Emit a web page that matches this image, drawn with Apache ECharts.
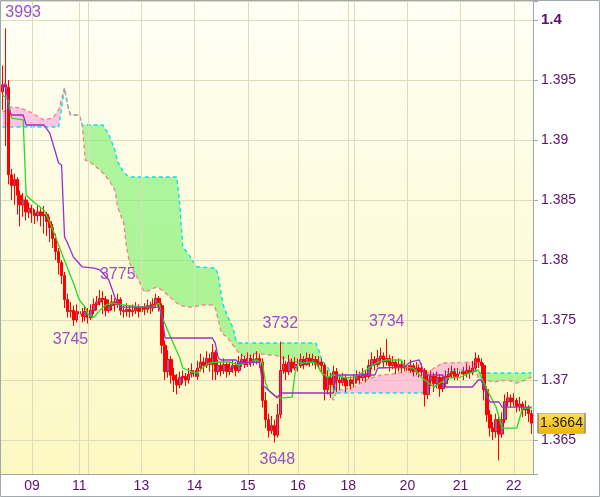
<!DOCTYPE html>
<html><head><meta charset="utf-8">
<script src="https://cdn.jsdelivr.net/npm/echarts@6/dist/echarts.min.js"></script>
<style>html,body{margin:0;padding:0;background:#fff}#c{width:600px;height:497px}</style>
</head><body><div id="c"></div>
<script>
// ---- candle data (one bar each) ----
const opens=[1.3940,1.3946,1.3944,1.3871,1.3862,1.3867,1.3854,1.3846,1.3850,1.3840,
1.3843,1.3839,1.3837,1.3840,1.3837,1.3838,1.3832,1.3827,1.3818,1.3807,
1.3798,1.3787,1.3767,1.3757,1.3758,1.3750,1.3757,1.3755,1.3753,1.3757,
1.3752,1.3758,1.3763,1.3765,1.3768,1.3767,1.3758,1.3762,1.3765,1.3763,
1.3767,1.3758,1.3757,1.3759,1.3757,1.3758,1.3760,1.3757,1.3761,1.3759,
1.3762,1.3760,1.3763,1.3768,1.3762,1.3729,1.3707,1.3717,1.3704,1.3700,
1.3696,1.3702,1.3703,1.3700,1.3705,1.3708,1.3703,1.3710,1.3715,1.3712,
1.3718,1.3713,1.3723,1.3707,1.3712,1.3708,1.3713,1.3707,1.3710,1.3712,
1.3708,1.3715,1.3717,1.3713,1.3718,1.3715,1.3717,1.3718,1.3715,1.3683,
1.3667,1.3658,1.3662,1.3654,1.3671,1.3708,1.3713,1.3707,1.3715,1.3710,
1.3713,1.3712,1.3717,1.3713,1.3718,1.3715,1.3717,1.3713,1.3715,1.3712,
1.3692,1.3702,1.3696,1.3707,1.3700,1.3698,1.3702,1.3695,1.3700,1.3697,
1.3700,1.3703,1.3702,1.3705,1.3703,1.3712,1.3717,1.3713,1.3718,1.3720,
1.3715,1.3718,1.3712,1.3715,1.3710,1.3713,1.3710,1.3712,1.3708,1.3712,
1.3707,1.3710,1.3707,1.3708,1.3688,1.3700,1.3703,1.3697,1.3702,1.3693,
1.3697,1.3703,1.3705,1.3707,1.3703,1.3705,1.3707,1.3705,1.3708,1.3706,
1.3710,1.3718,1.3715,1.3712,1.3692,1.3671,1.3660,1.3657,1.3667,1.3655,
1.3667,1.3682,1.3685,1.3682,1.3683,1.3678,1.3680,1.3675,1.3677,1.3672];
const closes=[1.3946,1.3944,1.3871,1.3862,1.3867,1.3854,1.3846,1.3850,1.3840,1.3843,
1.3839,1.3837,1.3840,1.3837,1.3838,1.3832,1.3827,1.3818,1.3807,1.3798,
1.3787,1.3767,1.3757,1.3758,1.3750,1.3757,1.3755,1.3753,1.3757,1.3752,
1.3758,1.3763,1.3765,1.3768,1.3767,1.3758,1.3762,1.3765,1.3763,1.3767,
1.3758,1.3757,1.3759,1.3757,1.3758,1.3760,1.3757,1.3761,1.3759,1.3762,
1.3760,1.3763,1.3768,1.3762,1.3729,1.3707,1.3717,1.3704,1.3700,1.3696,
1.3702,1.3703,1.3700,1.3705,1.3708,1.3703,1.3710,1.3715,1.3712,1.3718,
1.3713,1.3723,1.3707,1.3712,1.3708,1.3713,1.3707,1.3710,1.3712,1.3708,
1.3715,1.3717,1.3713,1.3718,1.3715,1.3717,1.3718,1.3715,1.3683,1.3667,
1.3658,1.3662,1.3654,1.3671,1.3708,1.3713,1.3707,1.3715,1.3710,1.3713,
1.3712,1.3717,1.3713,1.3718,1.3715,1.3717,1.3713,1.3715,1.3712,1.3692,
1.3702,1.3696,1.3707,1.3700,1.3698,1.3702,1.3695,1.3700,1.3697,1.3700,
1.3703,1.3702,1.3705,1.3703,1.3712,1.3717,1.3713,1.3718,1.3720,1.3715,
1.3718,1.3712,1.3715,1.3710,1.3713,1.3710,1.3712,1.3708,1.3712,1.3707,
1.3710,1.3707,1.3708,1.3688,1.3700,1.3703,1.3697,1.3702,1.3693,1.3697,
1.3703,1.3705,1.3707,1.3703,1.3705,1.3707,1.3705,1.3708,1.3706,1.3710,
1.3718,1.3715,1.3712,1.3692,1.3671,1.3660,1.3657,1.3667,1.3655,1.3667,
1.3682,1.3685,1.3682,1.3683,1.3678,1.3680,1.3675,1.3677,1.3672,1.3664];
const highs=[1.3962,1.3993,1.3950,1.3876,1.3872,1.3869,1.3858,1.3856,1.3853,1.3848,
1.3846,1.3842,1.3845,1.3843,1.3845,1.3840,1.3836,1.3830,1.3822,1.3810,
1.3800,1.3790,1.3772,1.3765,1.3762,1.3763,1.3762,1.3760,1.3762,1.3760,
1.3763,1.3768,1.3770,1.3775,1.3774,1.3770,1.3767,1.3771,1.3768,1.3772,
1.3769,1.3762,1.3764,1.3762,1.3763,1.3765,1.3763,1.3766,1.3764,1.3767,
1.3765,1.3768,1.3772,1.3770,1.3764,1.3733,1.3725,1.3720,1.3710,1.3705,
1.3707,1.3708,1.3706,1.3710,1.3714,1.3712,1.3716,1.3722,1.3719,1.3724,
1.3722,1.3730,1.3725,1.3717,1.3715,1.3718,1.3715,1.3715,1.3717,1.3715,
1.3720,1.3722,1.3720,1.3723,1.3721,1.3722,1.3724,1.3722,1.3718,1.3690,
1.3672,1.3670,1.3667,1.3680,1.3732,1.3720,1.3716,1.3721,1.3718,1.3719,
1.3718,1.3722,1.3720,1.3723,1.3722,1.3722,1.3720,1.3720,1.3718,1.3714,
1.3708,1.3706,1.3712,1.3710,1.3704,1.3706,1.3705,1.3705,1.3703,1.3705,
1.3708,1.3707,1.3710,1.3708,1.3717,1.3723,1.3720,1.3725,1.3727,1.3723,
1.3734,1.3721,1.3720,1.3717,1.3718,1.3716,1.3717,1.3714,1.3717,1.3714,
1.3715,1.3713,1.3714,1.3710,1.3705,1.3708,1.3706,1.3707,1.3705,1.3703,
1.3708,1.3710,1.3712,1.3710,1.3710,1.3712,1.3711,1.3714,1.3712,1.3716,
1.3723,1.3721,1.3718,1.3714,1.3695,1.3675,1.3665,1.3672,1.3670,1.3673,
1.3688,1.3690,1.3688,1.3689,1.3685,1.3686,1.3682,1.3683,1.3679,1.3675];
const lows=[1.3925,1.3895,1.3863,1.3850,1.3846,1.3838,1.3828,1.3836,1.3833,1.3835,
1.3831,1.3830,1.3832,1.3828,1.3822,1.3820,1.3815,1.3810,1.3800,1.3788,
1.3780,1.3760,1.3752,1.3752,1.3745,1.3748,1.3750,1.3748,1.3749,1.3747,
1.3750,1.3755,1.3758,1.3762,1.3755,1.3753,1.3756,1.3758,1.3757,1.3760,
1.3754,1.3752,1.3753,1.3752,1.3753,1.3755,1.3752,1.3755,1.3754,1.3756,
1.3755,1.3757,1.3760,1.3757,1.3722,1.3700,1.3702,1.3697,1.3690,1.3688,
1.3693,1.3697,1.3695,1.3697,1.3702,1.3698,1.3700,1.3707,1.3706,1.3710,
1.3707,1.3700,1.3700,1.3704,1.3703,1.3705,1.3702,1.3704,1.3706,1.3703,
1.3706,1.3711,1.3710,1.3711,1.3711,1.3712,1.3713,1.3710,1.3677,1.3660,
1.3652,1.3655,1.3648,1.3652,1.3668,1.3705,1.3700,1.3704,1.3706,1.3708,
1.3707,1.3710,1.3709,1.3712,1.3711,1.3712,1.3709,1.3710,1.3706,1.3683,
1.3688,1.3685,1.3692,1.3690,1.3692,1.3695,1.3690,1.3693,1.3692,1.3694,
1.3697,1.3697,1.3699,1.3698,1.3701,1.3709,1.3708,1.3711,1.3714,1.3710,
1.3712,1.3707,1.3709,1.3705,1.3707,1.3706,1.3707,1.3704,1.3706,1.3703,
1.3704,1.3702,1.3703,1.3678,1.3684,1.3695,1.3690,1.3693,1.3686,1.3690,
1.3694,1.3700,1.3702,1.3700,1.3700,1.3702,1.3700,1.3702,1.3701,1.3704,
1.3707,1.3710,1.3705,1.3683,1.3665,1.3653,1.3650,1.3652,1.3633,1.3652,
1.3664,1.3678,1.3677,1.3678,1.3673,1.3674,1.3669,1.3670,1.3665,1.3655];

// ---- day ticks ----
const tickIdx=[10,26,47,65,83,100,117,137,155,173];
const tickLabels=['09','11','13','14','15','16','18','20','21','22'];
const weekIdx=[29,119];

// ---- Ichimoku lines (vertices: bar index / value) ----
const tenkanIdx=[0,2,3,7,8,9,11,14,16,18,20,22,24,26,28,29,31,33,35,37,41,47,51,53,54,57,60,61,64,66,68,70,73,77,80,82,84,86,88,89,90,92,94,98,99,100,102,104,106,108,110,112,116,119,122,124,127,130,135,136,139,142,146,148,151,155,158,161,162,164,167,169,174,176,179];
const tenkanVal=[1.39375,1.39333,1.39183,1.39167,1.38542,1.38517,1.38475,1.38417,1.38317,1.38192,1.38058,1.37933,1.37808,1.37667,1.37608,1.37542,1.37525,1.37583,1.37625,1.37642,1.37625,1.37608,1.37608,1.37642,1.37525,1.3735,1.37183,1.371,1.37067,1.37058,1.37108,1.37142,1.3715,1.3715,1.37125,1.37142,1.3715,1.37167,1.37142,1.36975,1.36917,1.36875,1.3685,1.36858,1.37058,1.37142,1.37142,1.3715,1.37142,1.37058,1.37025,1.37042,1.37017,1.37025,1.37067,1.371,1.3715,1.37167,1.37167,1.37108,1.371,1.37017,1.36942,1.36975,1.37017,1.37025,1.37058,1.37083,1.37025,1.36917,1.36775,1.366,1.366,1.36767,1.36767];
const kijunIdx=[0,1,2,3,7,8,14,16,17,19,20,21,22,24,27,31,33,36,38,39,40,53,54,55,71,72,73,74,79,80,87,88,91,93,94,112,113,126,127,136,138,141,143,149,150,159,161,162,164,165,168,169,179];
const kijunVal=[1.39442,1.39475,1.39275,1.39208,1.39208,1.39125,1.39125,1.39058,1.38975,1.38808,1.38792,1.38192,1.38142,1.38025,1.37942,1.37933,1.37917,1.37833,1.37692,1.37642,1.37608,1.37608,1.37525,1.3735,1.3735,1.37308,1.37183,1.37167,1.37167,1.37142,1.3715,1.36958,1.36892,1.3685,1.36892,1.36892,1.37042,1.37042,1.371,1.37108,1.3715,1.37167,1.37042,1.37042,1.36942,1.36942,1.37,1.37,1.36858,1.36817,1.36817,1.36775,1.36775];
const cloudIdx=[0,3,6,10,14,17,19,21,22,23,26,27,28,30,33,34,36,37,38,39,41,42,43,46,48,50,52,54,57,59,60,61,63,64,66,67,71,72,73,74,75,76,78,79,80,82,84,86,90,92,99,103,106,107,108,109,110,111,112,113,114,119,123,128,132,137,141,142,144,146,149,151,159,160,161,166,171,174,177,179];
const spanA=[1.39108,1.39108,1.39108,1.39108,1.39108,1.39108,1.39108,1.39433,1.39292,1.39208,
1.39208,1.39125,1.39125,1.39125,1.39125,1.39125,1.39042,1.38983,1.38917,1.38817,
1.38733,1.38708,1.38692,1.38692,1.38692,1.38692,1.38692,1.38692,1.38692,1.38692,
1.38458,1.38108,1.3805,1.38,1.37942,1.37942,1.37933,1.37933,1.37875,1.37708,
1.376,1.37542,1.37433,1.37333,1.37308,1.37308,1.37308,1.37308,1.37308,1.37308,
1.37308,1.37308,1.37308,1.3725,1.37167,1.37133,1.37108,1.37058,1.37025,1.36892,
1.36892,1.36892,1.36892,1.36892,1.36892,1.36892,1.36892,1.36892,1.36917,1.36942,
1.36975,1.37083,1.37083,1.37075,1.37058,1.37058,1.37058,1.37058,1.37058,1.37058];
const spanB=[1.39233,1.39275,1.39267,1.39225,1.39167,1.39183,1.3925,1.39433,1.39292,1.39208,
1.39208,1.39125,1.38833,1.38808,1.3875,1.38725,1.38667,1.38625,1.38583,1.38442,
1.38308,1.38108,1.37975,1.37833,1.37733,1.3775,1.37775,1.3775,1.37683,1.37642,
1.37625,1.37617,1.37608,1.37608,1.37617,1.37625,1.37625,1.376,1.375,1.374,
1.37375,1.37358,1.37292,1.37258,1.37225,1.37192,1.37208,1.37225,1.37208,1.37208,
1.3715,1.3715,1.37167,1.37108,1.37067,1.37,1.36917,1.36858,1.36833,1.369,
1.36917,1.36942,1.37,1.37042,1.3705,1.37067,1.37083,1.37075,1.37058,1.371,
1.37142,1.37142,1.3715,1.371,1.37017,1.36983,1.37,1.36975,1.37,1.37025];

// ---- annotations ----
const noteIdx=[7,39,23,94,130,93];
const noteVal=[1.40058,1.37875,1.37333,1.37467,1.37483,1.36333];
const noteText=['3993','3775','3745','3732','3734','3648'];

const N=opens.length;
const categories=Array.from({length:N},(_,i)=>String(i));
function spread(idx,vals){const a=new Array(N).fill(null);idx.forEach((x,k)=>{a[x]=vals[k];});return a;}

const GREEN='rgba(120,240,108,0.6)', PINK='rgba(255,160,224,0.6)';
const FONT='Liberation Sans';
const LBL='#5a1070';

function cloudRender(params,api){
  if(params.dataIndex!==0)return {type:'group',children:[]};
  const pts=cloudIdx.map((x,k)=>({a:api.coord([x,spanA[k]]),b:api.coord([x,spanB[k]]),d:spanA[k]-spanB[k]}));
  const runs=[];let cur=null;
  function addSeg(a0,b0,a1,b1,s){
    if(s===0){cur=null;return;}
    if(!cur||cur.s!==s){cur={s:s,A:[a0],B:[b0]};runs.push(cur);}
    cur.A.push(a1);cur.B.push(b1);
  }
  for(let k=1;k<pts.length;k++){
    const p=pts[k-1],q=pts[k];
    if(p.d*q.d<0){
      const t=p.d/(p.d-q.d);
      const m=[p.a[0]+(q.a[0]-p.a[0])*t,p.a[1]+(q.a[1]-p.a[1])*t];
      addSeg(p.a,p.b,m,m,Math.sign(p.d));
      addSeg(m,m,q.a,q.b,Math.sign(q.d));
    }else{
      addSeg(p.a,p.b,q.a,q.b,Math.sign(p.d+q.d));
    }
  }
  return {type:'group',children:runs.map(r=>({type:'polygon',
    shape:{points:r.A.concat(r.B.slice().reverse())},
    style:{fill:r.s>0?GREEN:PINK}}))};
}

const chart=echarts.init(document.getElementById('c'),null,{renderer:'canvas'});
chart.setOption({
  animation:false,
  backgroundColor:'#ffffff',
  grid:{left:1,right:67,top:1,bottom:23,show:true,borderWidth:0,
    backgroundColor:{type:'linear',x:0,y:0,x2:0,y2:1,colorStops:[{offset:0,color:'#fffff6'},{offset:1,color:'#fbf8c2'}]}},
  xAxis:{type:'category',data:categories,boundaryGap:true,
    axisLine:{lineStyle:{color:'#a0a8b0',width:1}},
    axisTick:{alignWithLabel:true,interval:(i)=>tickIdx.includes(i),length:4,lineStyle:{color:'#a0a8b0'}},
    axisLabel:{interval:(i)=>tickIdx.includes(i),formatter:(v,i)=>{const k=tickIdx.indexOf(i);return k>=0?tickLabels[k]:'';},
      margin:5,color:LBL,fontSize:14,fontFamily:FONT},
    splitLine:{show:false}},
  yAxis:{type:'value',position:'right',min:1.36217,max:1.40158,splitNumber:8,minInterval:0.005,maxInterval:0.005,scale:true,
    axisLine:{show:true,lineStyle:{color:'#a0a8b0'}},
    axisTick:{show:true,length:5,lineStyle:{color:'#a0a8b0'}},
    axisLabel:{margin:8,color:LBL,fontSize:14,fontFamily:FONT,
      formatter:(v)=>{const k=v/0.005;if(Math.abs(k-Math.round(k))>1e-6)return '';const s=String(+v.toFixed(3));return Math.abs(v-1.4)<1e-9?'{b|'+s+'}':s;},
      rich:{b:{fontWeight:'bold',color:LBL,fontSize:15,fontFamily:FONT}}},
    splitLine:{show:true,lineStyle:{color:'#dedcbc',width:1}}},
  graphic:[{type:'rect',shape:{x:0.5,y:0.5,width:599,height:496},style:{fill:'none',stroke:'#a0a8b0',lineWidth:1},z:100}],
  series:[
    {type:'line',data:[],z:1,silent:true,
      markLine:{symbol:'none',silent:true,animation:false,label:{show:false},
        lineStyle:{color:'#dedcbc',width:1,type:'solid'},
        emphasis:{disabled:true},
        data:tickIdx.concat(weekIdx).map(i=>({xAxis:i}))}},
    {type:'custom',z:2,silent:true,clip:true,
      data:cloudIdx.map((x,k)=>[x,spanA[k],spanB[k]]),
      encode:{x:0,y:[1,2]},
      renderItem:cloudRender},
    {type:'line',name:'spanA',data:spread(cloudIdx,spanA),connectNulls:true,symbol:'none',z:3,silent:true,
      lineStyle:{color:'#00e4f0',width:1.4,type:[4,3]}},
    {type:'line',name:'spanB',data:spread(cloudIdx,spanB),connectNulls:true,symbol:'none',z:3,silent:true,
      lineStyle:{color:'#f08888',width:1.4,type:[4,3]}},
    {type:'candlestick',z:4,silent:true,barWidth:3,
      data:opens.map((o,i)=>[o,closes[i],lows[i],highs[i]]),
      itemStyle:{color:'#8060c0',color0:'#ff0000',borderColor:'#ff0000',borderColor0:'#ff0000',borderWidth:1},
      markPoint:{silent:true,animation:false,symbol:'rect',symbolSize:[47,20],symbolOffset:[30,0],
        itemStyle:{color:{type:'linear',x:0,y:0,x2:0,y2:1,colorStops:[{offset:0,color:'#ffde5a'},{offset:1,color:'#efb600'}]},borderColor:'#8c8c8c',borderWidth:1},
        label:{show:true,position:'inside',formatter:()=>closes[N-1].toFixed(4),color:'#222',fontSize:14,fontFamily:FONT},
        data:[{coord:[N-1,closes[N-1]]}]}},
    {type:'line',name:'tenkan',data:spread(tenkanIdx,tenkanVal),connectNulls:true,symbol:'none',z:5,silent:true,
      lineStyle:{color:'#22dd22',width:1.3}},
    {type:'line',name:'kijun',data:spread(kijunIdx,kijunVal),connectNulls:true,symbol:'none',z:5,silent:true,
      lineStyle:{color:'#9a30cc',width:1.3}},
    {type:'scatter',z:6,silent:true,symbolSize:1,itemStyle:{color:'rgba(0,0,0,0)'},
      data:noteIdx.map((x,k)=>[x,noteVal[k]]),
      label:{show:true,position:'inside',formatter:(p)=>noteText[p.dataIndex],color:'#7f22c8',fontSize:16,fontFamily:FONT}}
  ]
});
</script></body></html>
